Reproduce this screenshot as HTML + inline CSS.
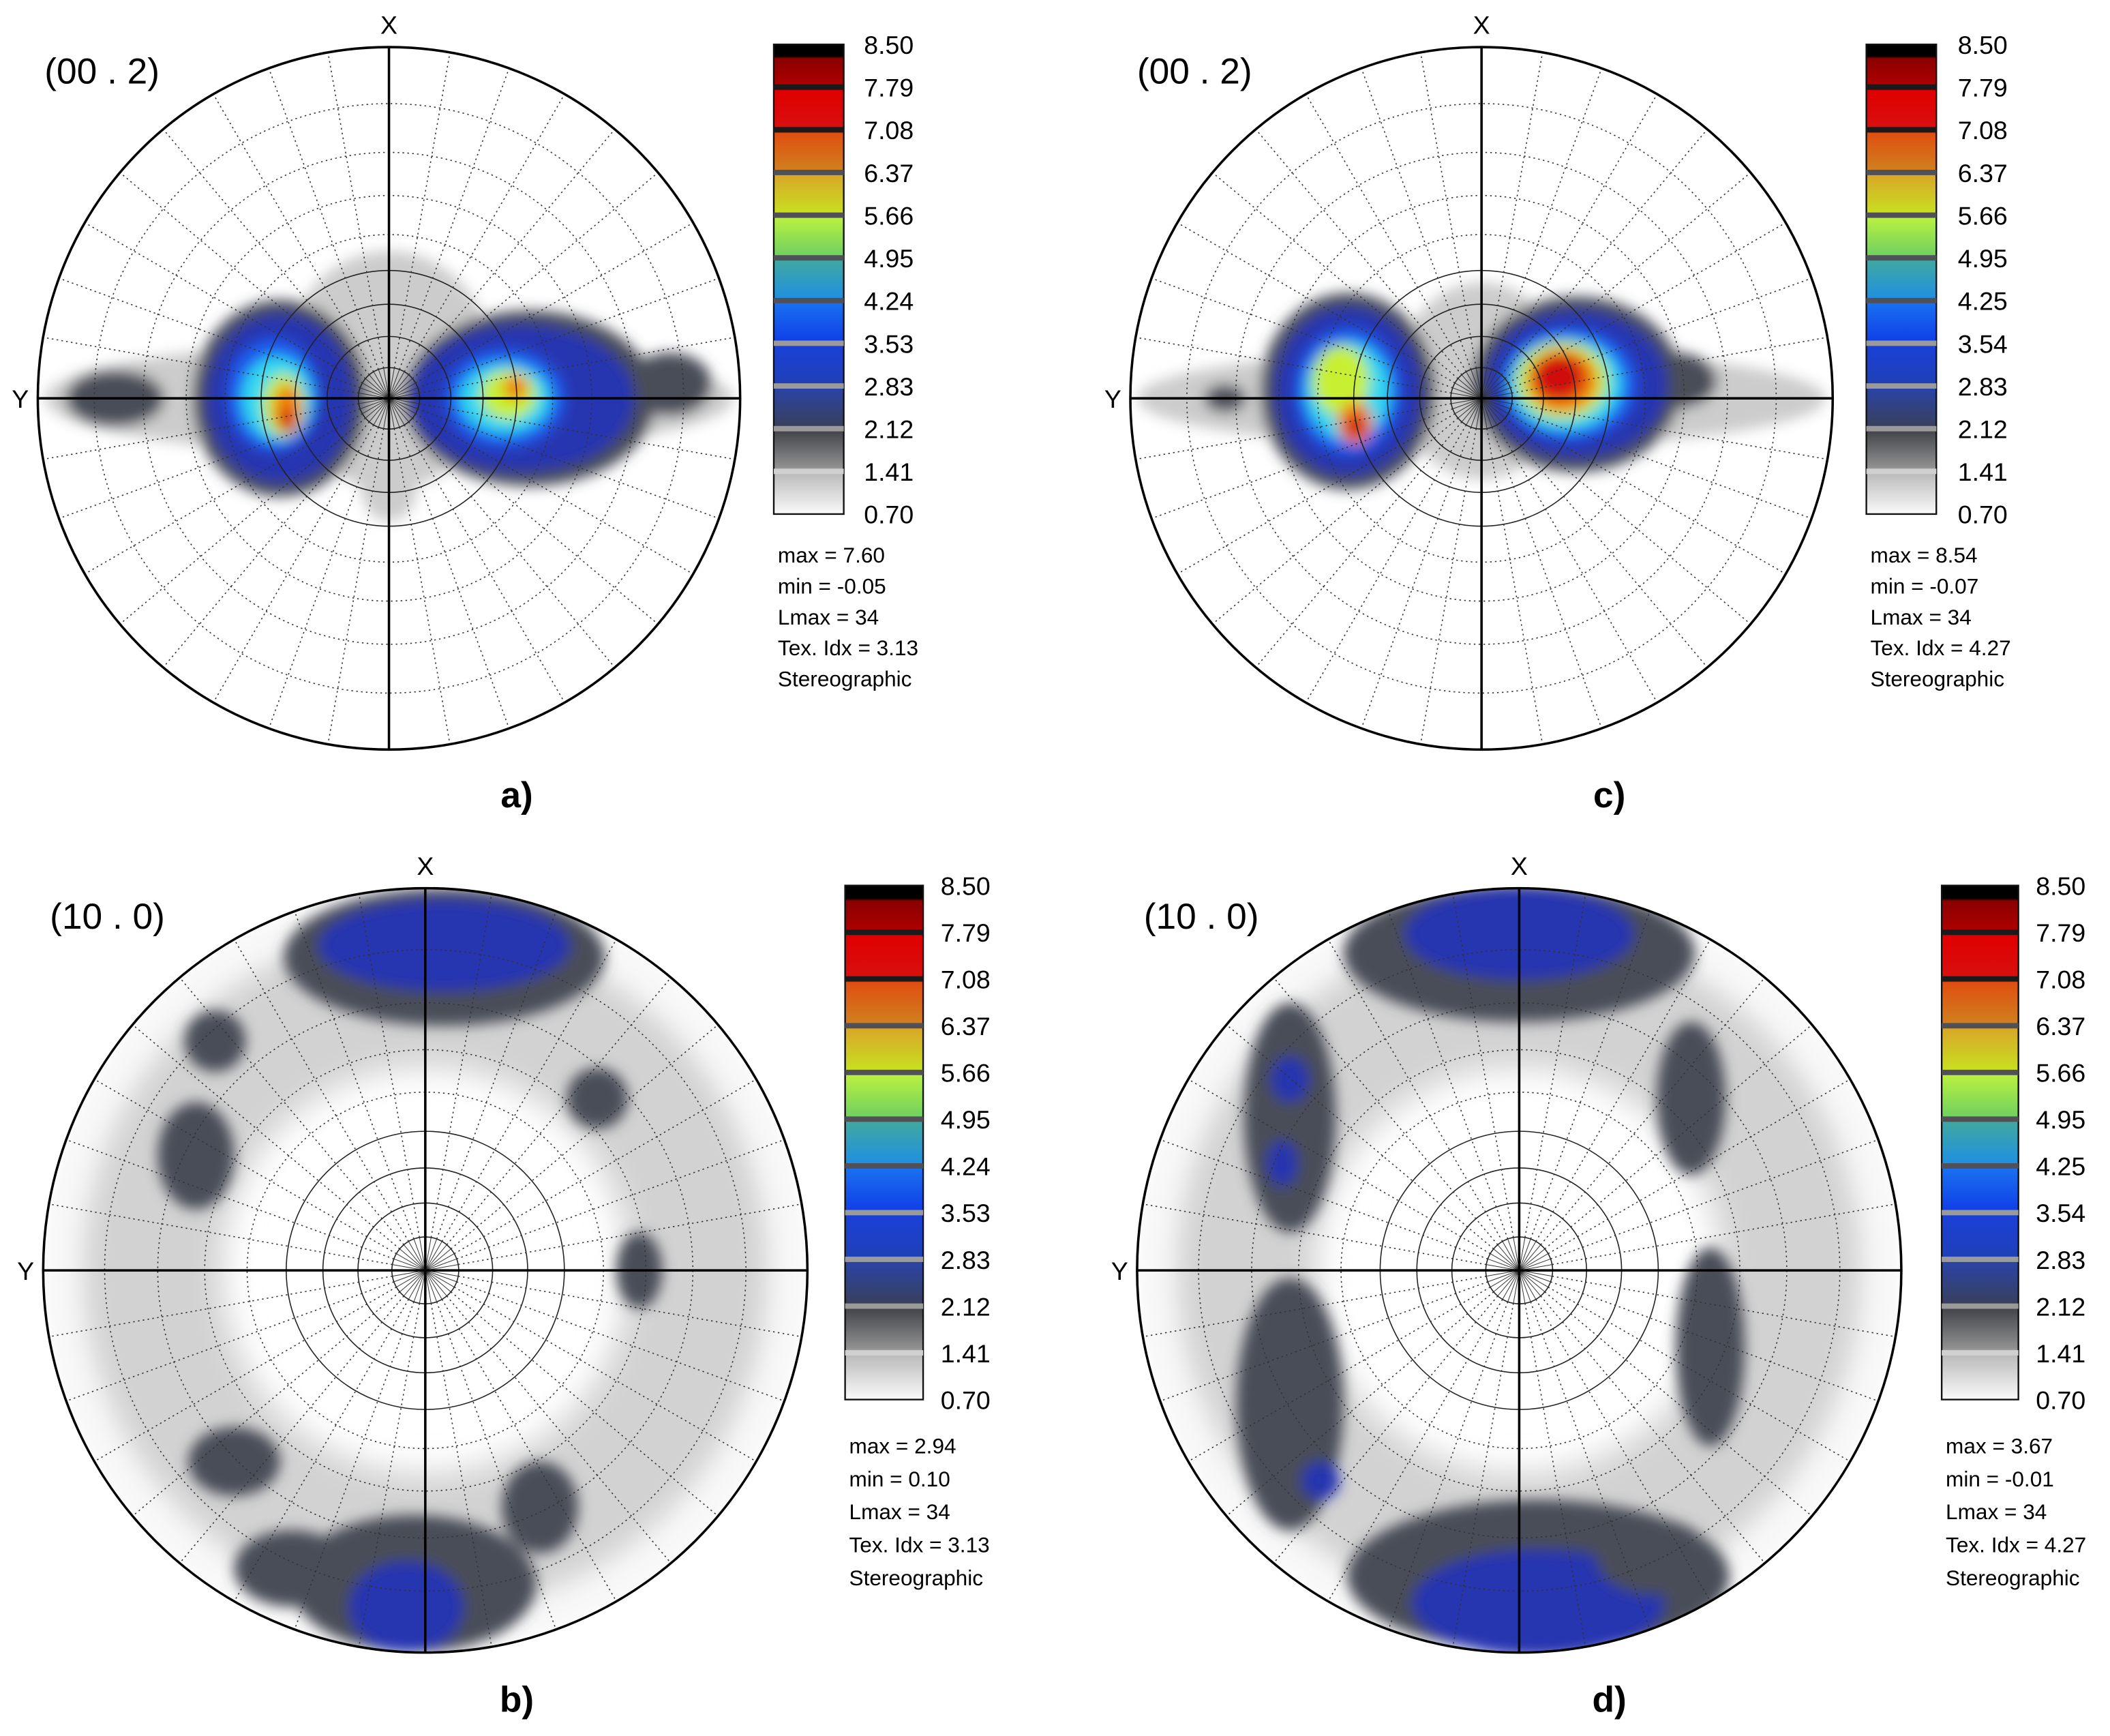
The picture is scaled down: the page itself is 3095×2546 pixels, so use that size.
<!DOCTYPE html>
<html><head><meta charset="utf-8"><style>
html,body{margin:0;padding:0;background:#fff;}
svg{display:block;}
text{font-family:"Liberation Sans",Arial,sans-serif;}
</style></head><body>
<svg id="fig" width="3095" height="2546" viewBox="0 0 1568 1290" xmlns="http://www.w3.org/2000/svg">
<defs>
<filter id="blur" x="-50%" y="-50%" width="200%" height="200%"><feGaussianBlur stdDeviation="5"/></filter>
<filter id="blur2" x="-50%" y="-50%" width="200%" height="200%"><feGaussianBlur stdDeviation="12"/></filter>
<linearGradient id="cbar" x1="0" y1="0" x2="0" y2="1">
<stop offset="0" stop-color="#000"/><stop offset="0.025" stop-color="#000"/>
<stop offset="0.03" stop-color="#8a0000"/><stop offset="0.09" stop-color="#b00000"/>
<stop offset="0.1" stop-color="#e00000"/><stop offset="0.18" stop-color="#d81010"/>
<stop offset="0.19" stop-color="#e05010"/><stop offset="0.27" stop-color="#d08020"/>
<stop offset="0.28" stop-color="#d8a828"/><stop offset="0.36" stop-color="#c8e020"/>
<stop offset="0.37" stop-color="#b8f040"/><stop offset="0.45" stop-color="#70d060"/>
<stop offset="0.46" stop-color="#40a8a0"/><stop offset="0.54" stop-color="#2090e0"/>
<stop offset="0.55" stop-color="#1a70f0"/><stop offset="0.63" stop-color="#1040e8"/>
<stop offset="0.64" stop-color="#1a40d8"/><stop offset="0.72" stop-color="#2040b8"/>
<stop offset="0.73" stop-color="#2a44a8"/><stop offset="0.81" stop-color="#384060"/>
<stop offset="0.82" stop-color="#404248"/><stop offset="0.9" stop-color="#909090"/>
<stop offset="0.91" stop-color="#b8b8b8"/><stop offset="1" stop-color="#fafafa"/>
</linearGradient>
</defs>
</svg>
<script>
// ---- data ----
const tickLabelsA = ["8.50","7.79","7.08","6.37","5.66","4.95","4.24","3.53","2.83","2.12","1.41","0.70"];
const tickLabelsC = ["8.50","7.79","7.08","6.37","5.66","4.95","4.25","3.54","2.83","2.12","1.41","0.70"];
const statsA = ["max = 7.60","min = -0.05","Lmax = 34","Tex. Idx = 3.13","Stereographic"];
const statsB = ["max = 2.94","min = 0.10","Lmax = 34","Tex. Idx = 3.13","Stereographic"];
const statsC = ["max = 8.54","min = -0.07","Lmax = 34","Tex. Idx = 4.27","Stereographic"];
const statsD = ["max = 3.67","min = -0.01","Lmax = 34","Tex. Idx = 4.27","Stereographic"];
// blobs: [x, y, rx, ry, level] in units of pole-figure radius
const blobsA = [
 [0,0,0.98,0.16,1],[0,-0.08,0.3,0.34,1],[-0.78,0,0.14,0.08,2],[0.8,-0.04,0.12,0.09,2],[0,0.25,0.08,0.1,1],
 [-0.31,0,0.25,0.28,2],[-0.31,0,0.21,0.24,3],[-0.33,-0.01,0.13,0.16,4],[-0.32,0,0.1,0.12,5],
 [-0.3,0.02,0.06,0.09,6],[-0.29,0.03,0.04,0.07,7],[-0.29,0.06,0.025,0.03,8],
 [0.4,0,0.36,0.25,2],[0.38,0,0.32,0.21,3],[0.33,0,0.17,0.14,4],[0.33,0,0.13,0.1,5],
 [0.34,-0.01,0.08,0.07,6],[0.36,-0.03,0.035,0.035,7]
];
const blobsC = [
 [0,0,0.98,0.14,1],[0,-0.05,0.24,0.28,1],[-0.73,0,0.06,0.04,2],[0.55,-0.05,0.12,0.08,2],
 [-0.38,-0.02,0.25,0.28,2],[-0.38,-0.02,0.21,0.24,3],[-0.38,-0.02,0.15,0.18,4],[-0.38,-0.02,0.12,0.14,5],
 [-0.4,-0.05,0.08,0.1,6],[-0.36,0.07,0.05,0.06,7],[-0.36,0.08,0.03,0.03,8],
 [0.27,-0.04,0.3,0.25,2],[0.27,-0.04,0.26,0.21,3],[0.25,-0.04,0.19,0.16,4],[0.24,-0.04,0.16,0.13,5],
 [0.23,-0.05,0.13,0.11,6],[0.23,-0.05,0.1,0.09,7],[0.22,-0.06,0.075,0.065,8]
];
const blobsB = [
 [0.05,-0.82,0.42,0.18,2],[0.05,-0.85,0.33,0.12,3],
 [-0.03,0.82,0.32,0.18,2],[-0.05,0.88,0.15,0.12,3],[0.3,0.62,0.1,0.12,2],
 [-0.6,-0.3,0.1,0.14,2],[-0.5,0.5,0.12,0.09,2],[0.56,0,0.06,0.1,2],[0.45,-0.45,0.08,0.08,2],
 [-0.35,0.78,0.15,0.1,2],[-0.55,-0.6,0.08,0.08,2]
];
const blobsD = [
 [0,-0.83,0.46,0.18,2],[0,-0.88,0.3,0.12,3],
 [0.05,0.8,0.5,0.2,2],[0.05,0.87,0.33,0.14,3],
 [-0.6,-0.4,0.12,0.3,2],[-0.6,0.35,0.14,0.33,2],[-0.52,0.55,0.05,0.05,3],[-0.6,-0.5,0.05,0.06,3],[-0.62,-0.28,0.04,0.06,3],
 [0.45,-0.45,0.09,0.2,2],[0.5,0.2,0.09,0.26,2],[0.35,0.75,0.15,0.1,2]
];
const levelColors = ["#fff","#cccccc","#4a4e58","#2535b0","#1a5cf0","#30d8f0","#c8f030","#f08010","#d01010"];

const NS="http://www.w3.org/2000/svg";
const svg=document.getElementById('fig');
function mk(tag,attrs,parent){const e=document.createElementNS(NS,tag);for(const k in attrs)e.setAttribute(k,attrs[k]);(parent||svg).appendChild(e);return e;}

const panels=[
 {id:'a',cx:289,cy:296,R:261,blobs:blobsA,ring:false,title:"(00 . 2)",tx:33,ty:62,cbx:575,cbw:52,cby:33,cbh:349,lx:642,ticks:tickLabelsA,stats:statsA,sx:578,sy:418,sd:23,letter:"a)",ly:600,lxx:384},
 {id:'c',cx:1101,cy:296,R:261,blobs:blobsC,ring:false,title:"(00 . 2)",tx:845,ty:62,cbx:1387,cbw:52,cby:33,cbh:349,lx:1455,ticks:tickLabelsC,stats:statsC,sx:1390,sy:418,sd:23,letter:"c)",ly:600,lxx:1196},
 {id:'b',cx:316,cy:944,R:284,blobs:blobsB,ring:true,title:"(10 . 0)",tx:37,ty:690,cbx:628,cbw:58,cby:658,cbh:382,lx:699,ticks:tickLabelsA,stats:statsB,sx:631,sy:1080,sd:24.5,letter:"b)",ly:1272,lxx:384},
 {id:'d',cx:1129,cy:944,R:284,blobs:blobsD,ring:true,title:"(10 . 0)",tx:850,ty:690,cbx:1443,cbw:57,cby:658,cbh:382,lx:1513,ticks:tickLabelsC,stats:statsD,sx:1446,sy:1080,sd:24.5,letter:"d)",ly:1272,lxx:1196}
];

panels.forEach(p=>{
 const g=mk('g',{});
 
 
 const cp=mk('clipPath',{id:'clip'+p.id},g);
 mk('circle',{cx:p.cx,cy:p.cy,r:p.R},cp);
 const map=mk('g',{'clip-path':'url(#clip'+p.id+')'},g);
 
 
 mk('rect',{x:p.cx-p.R,y:p.cy-p.R,width:2*p.R,height:2*p.R,fill:'#fff'},map);
 if(p.ring){
  mk('circle',{cx:p.cx,cy:p.cy,r:p.R*0.72,fill:'none',stroke:'#d2d2d2','stroke-width':p.R*0.38,filter:'url(#blur2)'},map);
  mk('circle',{cx:p.cx,cy:p.cy,r:p.R*0.97,fill:'none',stroke:'#f4f4f4','stroke-width':p.R*0.06,filter:'url(#blur2)'},map);
 }
 const bl=mk('g',{filter:'url(#blur)'},map);
 p.blobs.forEach(b=>{
  const e=mk('ellipse',{cx:p.cx+b[0]*p.R,cy:p.cy+b[1]*p.R,rx:b[2]*p.R,ry:b[3]*p.R,fill:levelColors[b[4]]},bl);
  
  
 });
 const gr=mk('g',{fill:'none'},map);
 
 
 for(let t=10;t<=80;t+=10){
  const r=p.R*Math.tan(t*Math.PI/360);
  const solid=t<=40;
  mk('circle',{cx:p.cx,cy:p.cy,r:r,stroke:solid?'#222':'#333','stroke-width':0.8,'stroke-dasharray':solid?'none':'1.2 2.4'},gr);
 }
 const r10=p.R*Math.tan(5*Math.PI/180);
 for(let a=0;a<360;a+=10){
  const ca=Math.cos(a*Math.PI/180),sa=Math.sin(a*Math.PI/180);
  mk('line',{x1:p.cx+ca*r10,y1:p.cy+sa*r10,x2:p.cx+ca*p.R,y2:p.cy+sa*p.R,stroke:'#333','stroke-width':0.8,'stroke-dasharray':'1.2 2.4'},gr);
  mk('line',{x1:p.cx,y1:p.cy,x2:p.cx+ca*r10,y2:p.cy+sa*r10,stroke:'#333','stroke-width':0.5},gr);
 }
 const oc=mk('circle',{cx:p.cx,cy:p.cy,r:p.R,fill:'none',stroke:'#000','stroke-width':1.8},g);
 
 
 const hx=mk('line',{x1:p.cx-p.R,y1:p.cy,x2:p.cx+p.R,y2:p.cy,stroke:'#000','stroke-width':1.8},g);
 
 
 const vx=mk('line',{x1:p.cx,y1:p.cy-p.R,x2:p.cx,y2:p.cy+p.R,stroke:'#000','stroke-width':1.8},g);
 
 
 const xl=mk('text',{x:p.cx,y:p.cy-p.R-10,'font-size':19,'text-anchor':'middle'},g);xl.textContent='X';
 
 
 const yl=mk('text',{x:p.cx-p.R-13,y:p.cy+7,'font-size':19,'text-anchor':'middle'},g);yl.textContent='Y';
 
 
 const tt=mk('text',{x:p.tx,y:p.ty,'font-size':27},g);tt.textContent=p.title;
 
 
 const cb=mk('rect',{x:p.cbx,y:p.cby,width:p.cbw,height:p.cbh,fill:'url(#cbar)',stroke:'#111','stroke-width':1.2},g);
 
 
 const n=p.ticks.length-1;
 p.ticks.forEach((t,i)=>{
  const y=p.cby+p.cbh*i/n;
  if(i>0&&i<n){
   const col=i<=2?'#1a1a1a':(i<=6?'#505058':(i<=9?'#9a9a9a':'#d0d0d0'));
   const sl=mk('line',{x1:p.cbx,y1:y,x2:p.cbx+p.cbw,y2:y,stroke:col,'stroke-width':4},g);
   
   
  }
  const tx=mk('text',{x:p.lx,y:y+7,'font-size':19},g);tx.textContent=t;
  
  
 });
 p.stats.forEach((s,i)=>{
  const st=mk('text',{x:p.sx,y:p.sy+i*p.sd,'font-size':16},g);st.textContent=s;
  
  
 });
 const lt=mk('text',{x:p.lxx,y:p.ly,'font-size':27,'font-weight':'bold','text-anchor':'middle'},g);lt.textContent=p.letter;
 
 
});
</script>
</body></html>
